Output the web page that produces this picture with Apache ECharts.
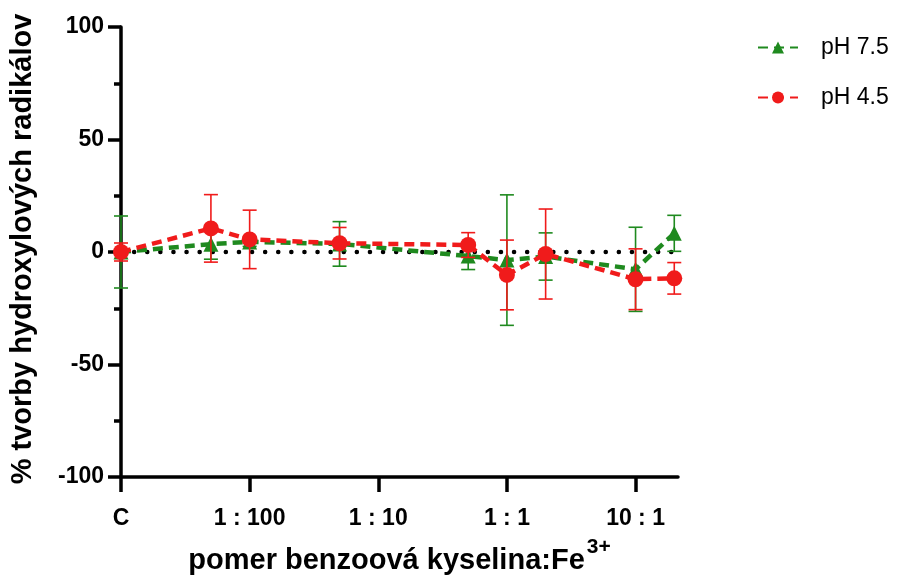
<!DOCTYPE html>
<html><head><meta charset="utf-8">
<script src="https://cdn.jsdelivr.net/npm/echarts@6/dist/echarts.min.js"></script>
<style>html,body{margin:0;padding:0;background:#fff}#c{width:904px;height:580px}</style>
</head><body><div id="c"></div>
<script>
// x positions in log10(ratio) units; C (control) placed at -3
const xPos = [-3, -2.301, -2, -1.301, -0.301, 0, 0.301, 1, 1.301];
const tickLabels = {'-3': 'C', '-2': '1 : 100', '-1': '1 : 10', '0': '1 : 1', '1': '10 : 1'};
const ph75 = [0, 3.5, 4.5, 3.6, -1.8, -3.6, -2, -7.7, 8.3];
const ph75err = [16, 6.7, 2, 9.9, 6, 29, 10.5, 18.7, 8];
const ph45 = [0, 10.5, 5.6, 3.9, 3.1, -10.2, -0.9, -12.1, -11.7];
const ph45err = [4, 15, 13, 7, 5.5, 15.5, 20, 13.5, 7];
const zeroLine = [[-3, 0], [1.301, 0]];

const GREEN = '#1f8a1f', RED = '#f01b1b';
const FONT = 'Liberation Sans';

function errSeries(name, vals, errs, color, z) {
  return {
    type: 'custom', name: name + ' err', z: z, silent: true,
    data: xPos.map((x, i) => [x, vals[i], errs[i]]),
    encode: {x: 0, y: 1},
    renderItem: function (params, api) {
      const x = api.value(0), y = api.value(1), e = api.value(2);
      const t = api.coord([x, y + e]), b = api.coord([x, y - e]);
      const hw = 7;
      const st = {stroke: color, lineWidth: 1.6};
      return {type: 'group', children: [
        {type: 'line', shape: {x1: t[0], y1: t[1], x2: b[0], y2: b[1]}, style: st},
        {type: 'line', shape: {x1: t[0] - hw, y1: t[1], x2: t[0] + hw, y2: t[1]}, style: st},
        {type: 'line', shape: {x1: b[0] - hw, y1: b[1], x2: b[0] + hw, y2: b[1]}, style: st}
      ]};
    }
  };
}

const chart = echarts.init(document.getElementById('c'));
chart.setOption({
  animation: false,
  textStyle: {fontFamily: FONT},
  grid: {left: 120, right: 226, top: 27, bottom: 103},
  legend: {
    orient: 'vertical', left: 752, top: 31, itemGap: 27, itemWidth: 40, itemHeight: 15,
    data: ['pH 7.5', 'pH 4.5'],
    textStyle: {fontSize: 23, color: '#000', fontFamily: FONT, padding: [0, 0, 0, 18]}
  },
  xAxis: {
    type: 'value', min: -3, max: 1.33, interval: 1,
    splitLine: {show: false},
    axisLine: {onZero: false, lineStyle: {color: '#000', width: 3.5}},
    axisTick: {length: 15, lineStyle: {color: '#000', width: 3.5}},
    axisLabel: {
      margin: 30, fontSize: 23, fontWeight: 'bold', color: '#000', fontFamily: FONT,
      showMaxLabel: false,
      formatter: v => tickLabels[String(Math.round(v))] !== undefined && Math.abs(v - Math.round(v)) < 1e-6 ? tickLabels[String(Math.round(v))] : ''
    },
    name: '{t|pomer benzoová kyselina:Fe}{s|3+}',
    nameLocation: 'middle', nameGap: 60,
    nameTextStyle: {
      rich: {
        t: {fontSize: 29, fontWeight: 'bold', color: '#000', fontFamily: FONT, verticalAlign: 'bottom'},
        s: {fontSize: 21, fontWeight: 'bold', color: '#000', fontFamily: FONT, verticalAlign: 'top', padding: [0, 0, 17, 2]}
      }
    }
  },
  yAxis: {
    type: 'value', min: -100, max: 100, interval: 50,
    splitLine: {show: false},
    axisLine: {onZero: false, lineStyle: {color: '#000', width: 3.5}},
    axisTick: {length: 13, lineStyle: {color: '#000', width: 3.5}},
    minorTick: {show: true, splitNumber: 2, length: 7, lineStyle: {color: '#000', width: 3.5}},
    axisLabel: {margin: 17, fontSize: 23, fontWeight: 'bold', color: '#000', fontFamily: FONT},
    name: '% tvorby hydroxylových radikálov',
    nameLocation: 'middle', nameGap: 84,
    nameTextStyle: {fontSize: 29, fontWeight: 'bold', color: '#000', fontFamily: FONT, padding: [0, 0, 0, 6]}
  },
  series: [
    {
      type: 'line', name: 'zero', silent: true, data: zeroLine, symbol: 'none', z: 1,
      lineStyle: {color: '#000', width: 4.5, type: [0.1, 13], cap: 'round'}
    },
    errSeries('pH 7.5', ph75, ph75err, GREEN, 2),
    {
      type: 'line', name: 'pH 7.5', z: 3,
      data: xPos.map((x, i) => [x, ph75[i]]),
      symbol: 'triangle', symbolSize: 15,
      itemStyle: {color: GREEN},
      lineStyle: {color: GREEN, width: 4.5, type: [10, 6]}
    },
    errSeries('pH 4.5', ph45, ph45err, RED, 4),
    {
      type: 'line', name: 'pH 4.5', z: 5,
      data: xPos.map((x, i) => [x, ph45[i]]),
      symbol: 'circle', symbolSize: 16,
      itemStyle: {color: RED},
      lineStyle: {color: RED, width: 4.5, type: [10, 6]}
    }
  ]
});
</script>
</body></html>
